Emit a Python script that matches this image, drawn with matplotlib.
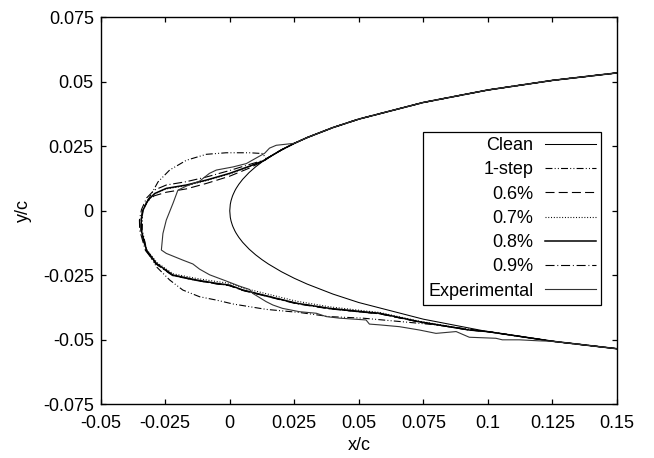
import numpy as np
import matplotlib
matplotlib.use("Agg")
import matplotlib.pyplot as plt
import matplotlib.ticker as ticker

plt.rcParams['font.family'] = ['Liberation Sans', 'DejaVu Sans']
plt.rcParams['font.size'] = 13
plt.rcParams['lines.scale_dashes'] = False

# clean airfoil surface (leading edge region), x descending to the nose
clean_x = [0.15, 0.125, 0.1, 0.075, 0.05, 0.04, 0.03, 0.025, 0.02, 0.015, 0.0125,
           0.01, 0.0075, 0.005, 0.0035, 0.0025, 0.002, 0.00125, 0.001, 0.0005, 0.0002, 0.0]
clean_y_upper = [0.05345, 0.05055, 0.04683, 0.04200, 0.03555, 0.03228, 0.02840, 0.02615,
                 0.02360, 0.02064, 0.01894, 0.01704, 0.01485, 0.01221, 0.01027, 0.00872,
                 0.00782, 0.00620, 0.00556, 0.00395, 0.00252, 0.0]
clean_y_lower = [-0.05345, -0.05055, -0.04683, -0.04200, -0.03555, -0.03228, -0.02840, -0.02615,
                 -0.02360, -0.02064, -0.01894, -0.01704, -0.01485, -0.01221, -0.01027, -0.00872,
                 -0.00782, -0.00620, -0.00556, -0.00395, -0.00252, 0.0]

# ice shapes, from upper limit round the nose to lower limit
step1_x = [0.0140, 0.0128, 0.0077, -0.0014, -0.0091, -0.0168, -0.0233, -0.0278, -0.0310,
           -0.0330, -0.0338, -0.0339, -0.0322, -0.0284, -0.0233, -0.0182, -0.0117, -0.0052,
           0.0012, 0.0141, 0.0270, 0.0386, 0.0515, 0.0669, 0.0799]
step1_y = [0.0202, 0.0222, 0.0225, 0.0225, 0.0219, 0.0196, 0.0158, 0.0112, 0.0054,
           0.0022, -0.0005, -0.0075, -0.0152, -0.0217, -0.0268, -0.0307, -0.0333, -0.0346,
           -0.0361, -0.0382, -0.0394, -0.0410, -0.0416, -0.0430, -0.0442]

p06_x = [0.0135, 0.0077, -0.0001, -0.0091, -0.0168, -0.0246, -0.0293, -0.0320, -0.0338,
         -0.0344, -0.0344, -0.0325, -0.0286, -0.0222, -0.0130, -0.0052, -0.0001, 0.0051,
         0.0128, 0.0257, 0.0386, 0.0515, 0.0580, 0.0735, 0.0928]
p06_y = [0.0195, 0.0166, 0.0134, 0.0106, 0.0085, 0.0072, 0.0058, 0.0036, 0.0001,
         -0.0036, -0.0075, -0.0153, -0.0205, -0.0250, -0.0270, -0.0283, -0.0290, -0.0308,
         -0.0327, -0.0358, -0.0379, -0.0393, -0.0399, -0.0431, -0.0462]

p07_x = [0.0135, 0.0077, -0.0001, -0.0091, -0.0168, -0.0246, -0.0291, -0.0317, -0.0336,
         -0.0343, -0.0342, -0.0322, -0.0283, -0.0220, -0.0130, -0.0052, -0.0001, 0.0051,
         0.0128, 0.0257, 0.0386, 0.0515, 0.0580, 0.0735, 0.0928]
p07_y = [0.0196, 0.0172, 0.0143, 0.0117, 0.0098, 0.0085, 0.0066, 0.0040, 0.0003,
         -0.0036, -0.0074, -0.0150, -0.0200, -0.0244, -0.0262, -0.0274, -0.0281, -0.0299,
         -0.0318, -0.0350, -0.0372, -0.0387, -0.0394, -0.0428, -0.0461]

p08_x = [0.0135, 0.0077, -0.0001, -0.0091, -0.0168, -0.0246, -0.0291, -0.0317, -0.0336,
         -0.0343, -0.0343, -0.0323, -0.0284, -0.0220, -0.0130, -0.0052, -0.0001, 0.0051,
         0.0128, 0.0257, 0.0386, 0.0515, 0.0580, 0.0735, 0.0928]
p08_y = [0.0196, 0.0173, 0.0145, 0.0119, 0.0100, 0.0087, 0.0067, 0.0041, 0.0003,
         -0.0036, -0.0075, -0.0152, -0.0204, -0.0249, -0.0268, -0.0281, -0.0288, -0.0307,
         -0.0326, -0.0358, -0.0378, -0.0391, -0.0397, -0.0430, -0.0462]

p09_x = [0.0135, 0.0077, -0.0001, -0.0091, -0.0168, -0.0246, -0.0293, -0.0322, -0.0342,
         -0.0350, -0.0349, -0.0327, -0.0286, -0.0222, -0.0130, -0.0052, -0.0001, 0.0051,
         0.0128, 0.0257, 0.0386, 0.0515, 0.0580, 0.0735, 0.0928]
p09_y = [0.0197, 0.0180, 0.0156, 0.0131, 0.0113, 0.0100, 0.0080, 0.0050, 0.0005,
         -0.0036, -0.0075, -0.0153, -0.0206, -0.0251, -0.0270, -0.0283, -0.0290, -0.0309,
         -0.0328, -0.0360, -0.0380, -0.0393, -0.0399, -0.0431, -0.0462]

exp_x = [0.0244, 0.0180, 0.0154, 0.0135, 0.0064, 0.0012, -0.0052, -0.0079, -0.0117,
         -0.0168, -0.0201, -0.0220, -0.0246, -0.0259, -0.0265, -0.0246, -0.0182, -0.0143,
         -0.0117, -0.0078, -0.0014, 0.0038, 0.0077, 0.0089, 0.0141, 0.0167, 0.0204, 0.0270,
         0.0335, 0.0374, 0.0425, 0.0528, 0.0541, 0.0580, 0.0657, 0.0735, 0.0799, 0.0877,
         0.0928, 0.1031, 0.1056, 0.1122, 0.1199]
exp_y = [0.0261, 0.0254, 0.0243, 0.0223, 0.0183, 0.0170, 0.0158, 0.0145, 0.0115,
         0.0096, 0.0080, 0.0029, -0.0036, -0.0088, -0.0152, -0.0165, -0.0191, -0.0206,
         -0.0226, -0.0248, -0.0272, -0.0292, -0.0305, -0.0320, -0.0352, -0.0365, -0.0378, -0.0391,
         -0.0397, -0.0410, -0.0416, -0.0423, -0.0439, -0.0442, -0.0449, -0.0462, -0.0475, -0.0468,
         -0.0490, -0.0494, -0.0500, -0.0500, -0.0504]

x_ticks = [-0.05, -0.025, 0, 0.025, 0.05, 0.075, 0.1, 0.125, 0.15]
x_tick_labels = ['-0.05', '-0.025', '0', '0.025', '0.05', '0.075', '0.1', '0.125', '0.15']
y_ticks = [-0.075, -0.05, -0.025, 0, 0.025, 0.05, 0.075]
y_tick_labels = ['-0.075', '-0.05', '-0.025', '0', '0.025', '0.05', '0.075']


def contour(ix, iy):
    # ice points joined onto the clean surface on both sides
    up = [(x, y) for x, y in zip(clean_x, clean_y_upper) if x > ix[0]]
    lo = [(x, y) for x, y in zip(clean_x[::-1], clean_y_lower[::-1]) if x > ix[-1]]
    xs = [p[0] for p in up] + list(ix) + [p[0] for p in lo]
    ys = [p[1] for p in up] + list(iy) + [p[1] for p in lo]
    return xs, ys


fig = plt.figure(figsize=(6.54, 4.58), dpi=100)
ax = fig.add_axes([0.1540, 0.1172, 0.7893, 0.8450])

cx = clean_x + clean_x[::-1][1:]
cy = clean_y_upper + clean_y_lower[::-1][1:]
ax.plot(cx, cy, color='black', lw=0.75, label='Clean')

xs, ys = contour(step1_x, step1_y)
ax.plot(xs, ys, color='black', lw=0.8, dashes=(5, 1.6, 0.7, 1.6, 0.7, 1.6), label='1-step')
xs, ys = contour(p06_x, p06_y)
ax.plot(xs, ys, color='black', lw=0.8, dashes=(6.5, 3), label='0.6%')
xs, ys = contour(p07_x, p07_y)
ax.plot(xs, ys, color='black', lw=0.8, dashes=(0.7, 1.3), label='0.7%')
xs, ys = contour(p08_x, p08_y)
ax.plot(xs, ys, color='black', lw=1.1, label='0.8%')
xs, ys = contour(p09_x, p09_y)
ax.plot(xs, ys, color='black', lw=0.8, dashes=(6.5, 2, 0.7, 2), label='0.9%')
xs, ys = contour(exp_x, exp_y)
ax.plot(xs, ys, color='#333333', lw=0.8, label='Experimental')

ax.set_xlim(-0.05, 0.15)
ax.set_ylim(-0.075, 0.075)
ax.xaxis.set_major_locator(ticker.FixedLocator(x_ticks))
ax.xaxis.set_major_formatter(ticker.FixedFormatter(x_tick_labels))
ax.yaxis.set_major_locator(ticker.FixedLocator(y_ticks))
ax.yaxis.set_major_formatter(ticker.FixedFormatter(y_tick_labels))
ax.tick_params(direction='in', length=3.6, width=0.9, top=True, right=True)
ax.tick_params(axis='x', pad=8)
ax.tick_params(axis='y', pad=5)
for s in ax.spines.values():
    s.set_linewidth(1.0)

ax.set_xlabel('x/c', labelpad=3)
ax.set_ylabel('y/c', labelpad=8)

leg = ax.legend(loc='upper right', bbox_to_anchor=(0.9694, 0.7041), borderaxespad=0,
                markerfirst=False, fancybox=False, framealpha=1, edgecolor='black',
                handlelength=2.8, handletextpad=0.65, borderpad=0.3, labelspacing=0.4,
                fontsize=13)
leg.get_frame().set_linewidth(0.9)

plt.savefig('out.png', dpi=100)
